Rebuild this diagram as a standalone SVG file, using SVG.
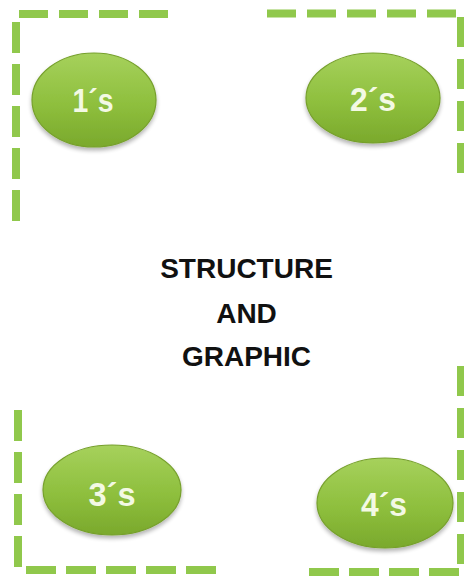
<svg xmlns="http://www.w3.org/2000/svg" width="464" height="576" viewBox="0 0 464 576">
  <defs>
    <linearGradient id="gEl" x1="0" y1="0" x2="0" y2="1">
      <stop offset="0" stop-color="#a6d15c"/>
      <stop offset="0.55" stop-color="#8ebf3d"/>
      <stop offset="1" stop-color="#7aa92c"/>
    </linearGradient>
    <filter id="sh" x="-20%" y="-20%" width="140%" height="150%">
      <feGaussianBlur in="SourceAlpha" stdDeviation="2"/>
      <feOffset dx="0" dy="3" result="b"/>
      <feComponentTransfer><feFuncA type="linear" slope="0.3"/></feComponentTransfer>
      <feMerge><feMergeNode/><feMergeNode in="SourceGraphic"/></feMerge>
    </filter>
  </defs>
  <style>
    .dash { stroke: #90c84c; stroke-width: 8; fill: none; stroke-dasharray: 29 11; }
    .v { stroke-dasharray: 31 11; }
    .node ellipse { fill: url(#gEl); stroke: #76a02c; stroke-width: 1.2; filter: url(#sh); }
    .node text { font-family: "Liberation Sans", Arial, sans-serif; font-weight: bold; font-size: 33px; fill: #f3f9e4; text-anchor: middle; }
    .title { font-family: "Liberation Sans", Arial, sans-serif; font-weight: bold; font-size: 28px; fill: #111111; text-anchor: middle; }
  </style>
  <rect width="464" height="576" fill="#ffffff"/>
  <g id="connectors">
    <line class="dash" x1="19" y1="14" x2="170" y2="14"/>
    <line class="dash v" x1="16" y1="22" x2="16" y2="222"/>
    <line class="dash" x1="267" y1="13.5" x2="457" y2="13.5"/>
    <line class="dash v" x1="461" y1="17" x2="461" y2="174" style="stroke-dasharray:30 12"/>
    <line class="dash v" x1="18" y1="410" x2="18" y2="568"/>
    <line class="dash" x1="26" y1="570" x2="216" y2="570" style="stroke-dasharray:30 10"/>
    <line class="dash v" x1="461" y1="366" x2="461" y2="565" style="stroke-dasharray:30 12"/>
    <line class="dash" x1="309" y1="572" x2="460" y2="572" style="stroke-dasharray:30 10"/>
  </g>
  <g id="node1" class="node">
    <ellipse cx="94" cy="100" rx="62" ry="47"/>
    <text x="93" y="112" textLength="41" lengthAdjust="spacingAndGlyphs">1´s</text>
  </g>
  <g id="node2" class="node">
    <ellipse cx="373" cy="98" rx="67" ry="45"/>
    <text x="373" y="111" textLength="46" lengthAdjust="spacingAndGlyphs">2´s</text>
  </g>
  <g id="node3" class="node">
    <ellipse cx="112" cy="490" rx="69" ry="45"/>
    <text x="112" y="506" textLength="47" lengthAdjust="spacingAndGlyphs">3´s</text>
  </g>
  <g id="node4" class="node">
    <ellipse cx="385" cy="503" rx="68" ry="45"/>
    <text x="384" y="516" textLength="46" lengthAdjust="spacingAndGlyphs">4´s</text>
  </g>
  <g id="title">
    <text class="title" x="246.5" y="278">STRUCTURE</text>
    <text class="title" x="246.5" y="323">AND</text>
    <text class="title" x="246.5" y="366">GRAPHIC</text>
  </g>
</svg>
